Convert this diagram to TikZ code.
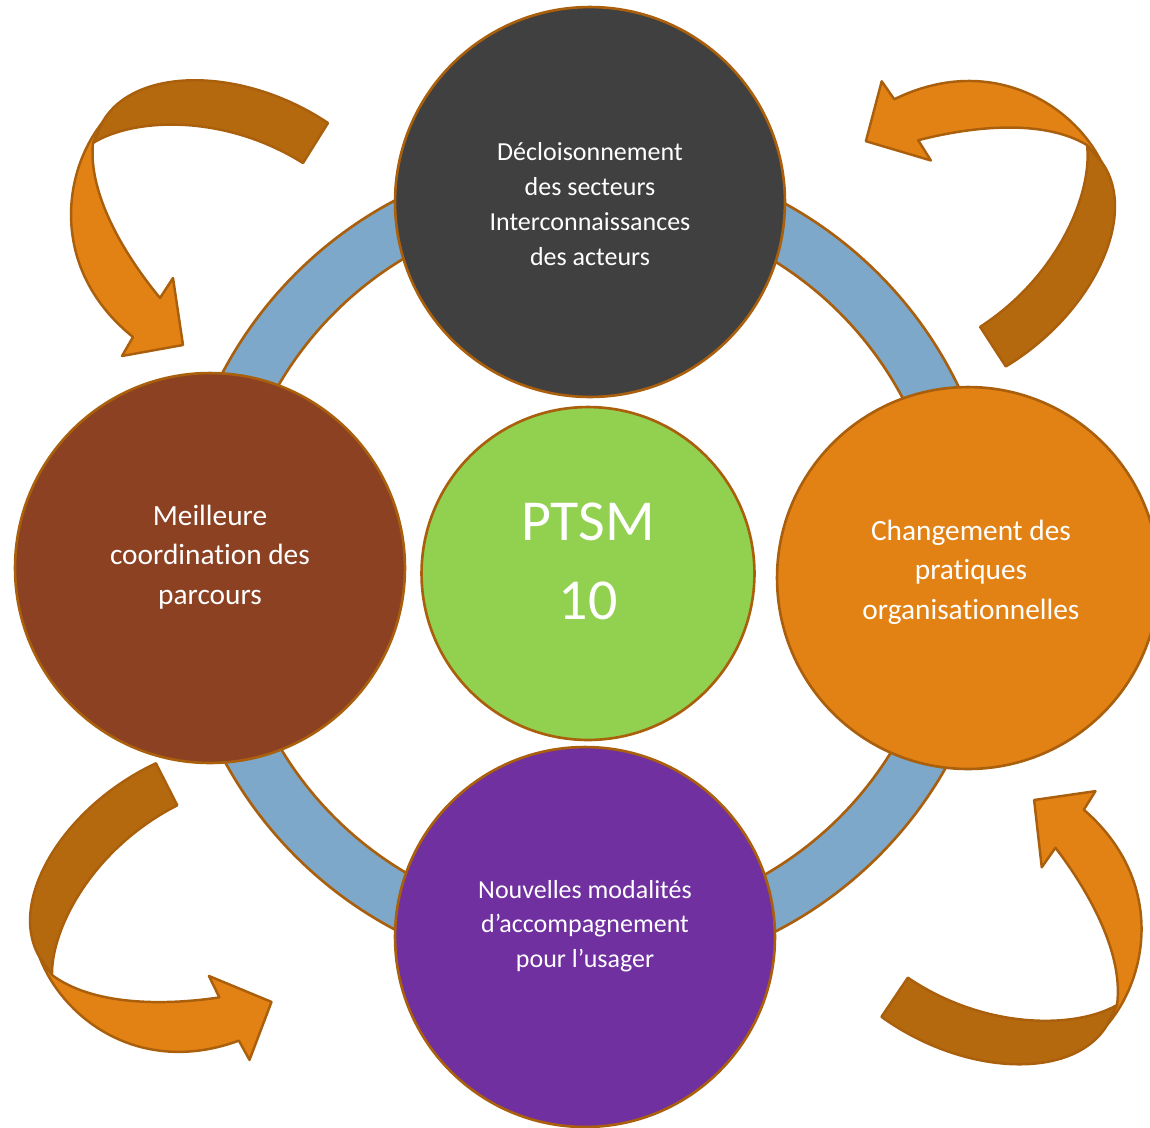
\documentclass[tikz,border=0pt]{standalone}
\usepackage{fontspec}
\setmainfont[Ligatures={NoCommon}]{Carlito}
\usepackage{tikz}
\usetikzlibrary{calc}

\definecolor{rimbrown}{RGB}{170,95,12}
\definecolor{ringblue}{RGB}{126,168,202}
\definecolor{darkgrey}{RGB}{64,64,64}
\definecolor{rust}{RGB}{139,65,34}
\definecolor{pumpkin}{RGB}{227,130,20}
\definecolor{ptsmpurple}{RGB}{112,48,160}
\definecolor{leafgreen}{RGB}{146,208,80}
\definecolor{tailorange}{RGB}{181,105,15}

\tikzset{
	bubble/.style={circle, draw=rimbrown, line width=1.5pt, inner sep=0pt},
	bubbletext/.style={text=white, align=center},
}

% twisted ribbon arrow, drawn around its fold point
\newcommand\twistarrow{
	\draw[rimbrown, line width=1.4pt, line join=round, fill=tailorange]
		(235,-20) .. controls (150,-77) and (40,-77) .. (9,-20)
		-- (0,0) .. controls (40,-25) and (130,-30) .. (210,20)
		-- cycle;
	\draw[rimbrown, line width=1.4pt, line join=round, fill=pumpkin]
		(9,-20) .. controls (-32,32) and (-42,128) .. (40,194)
		-- (29,213) -- (90,202) -- (80,135) -- (67,155)
		.. controls (30,110) and (-5,50) .. (0,0)
		-- cycle;
}

\begin{document}
\begin{tikzpicture}[x=0.02cm, y=-0.02cm]
	\useasboundingbox (0,0) rectangle (1150,1127);
	% ring behind the bubbles
	\draw[rimbrown, line width=1.5pt, fill=ringblue, even odd rule]
		(587,565) circle[radius=412] (587,565) circle[radius=357];

	\node[bubble, fill=darkgrey, minimum size=7.8cm] (decl) at (590,202) {};
	\node[bubble, fill=rust, minimum size=7.8cm] (coord) at (210,568) {};
	\node[bubble, fill=pumpkin, minimum size=7.64cm] (chang) at (968,578) {};
	\node[bubble, fill=ptsmpurple, minimum size=7.6cm] (nouv) at (585,937) {};
	\node[bubble, fill=leafgreen, minimum size=6.66cm] (ptsm) at (588,573.5) {};

	\node[bubbletext, font=\fontsize{14.8}{19.8}\selectfont] (decltext) at (590,204)
		{Décloisonnement\\des secteurs\\Interconnaissances\\des acteurs};
	\node[bubbletext, font=\fontsize{16.7}{22.4}\selectfont] (coordtext) at (210,557)
		{Meilleure\\coordination des\\parcours};
	\node[bubbletext, font=\fontsize{16.7}{22.4}\selectfont] (changtext) at (971,572)
		{Changement des\\pratiques\\organisationnelles};
	\node[bubbletext, font=\fontsize{14.8}{19.8}\selectfont] (nouvtext) at (585,926)
		{Nouvelles modalités\\d’accompagnement\\pour l’usager};
	\node[bubbletext, font=\fontsize{33}{44.8}\selectfont] (ptsmtext) at (588,561.5)
		{PTSM\\10};

	% the four curved arrows
	\begin{scope}[shift={(93,143)}]
		\twistarrow
	\end{scope}
	\begin{scope}[shift={(52,975)}, rotate=59]
		\twistarrow
	\end{scope}
	\begin{scope}[shift={(1087,145)}, rotate=-115]
		\twistarrow
	\end{scope}
	\begin{scope}[shift={(1117,1005)}, rotate=178]
		\twistarrow
	\end{scope}
\end{tikzpicture}
\end{document}
